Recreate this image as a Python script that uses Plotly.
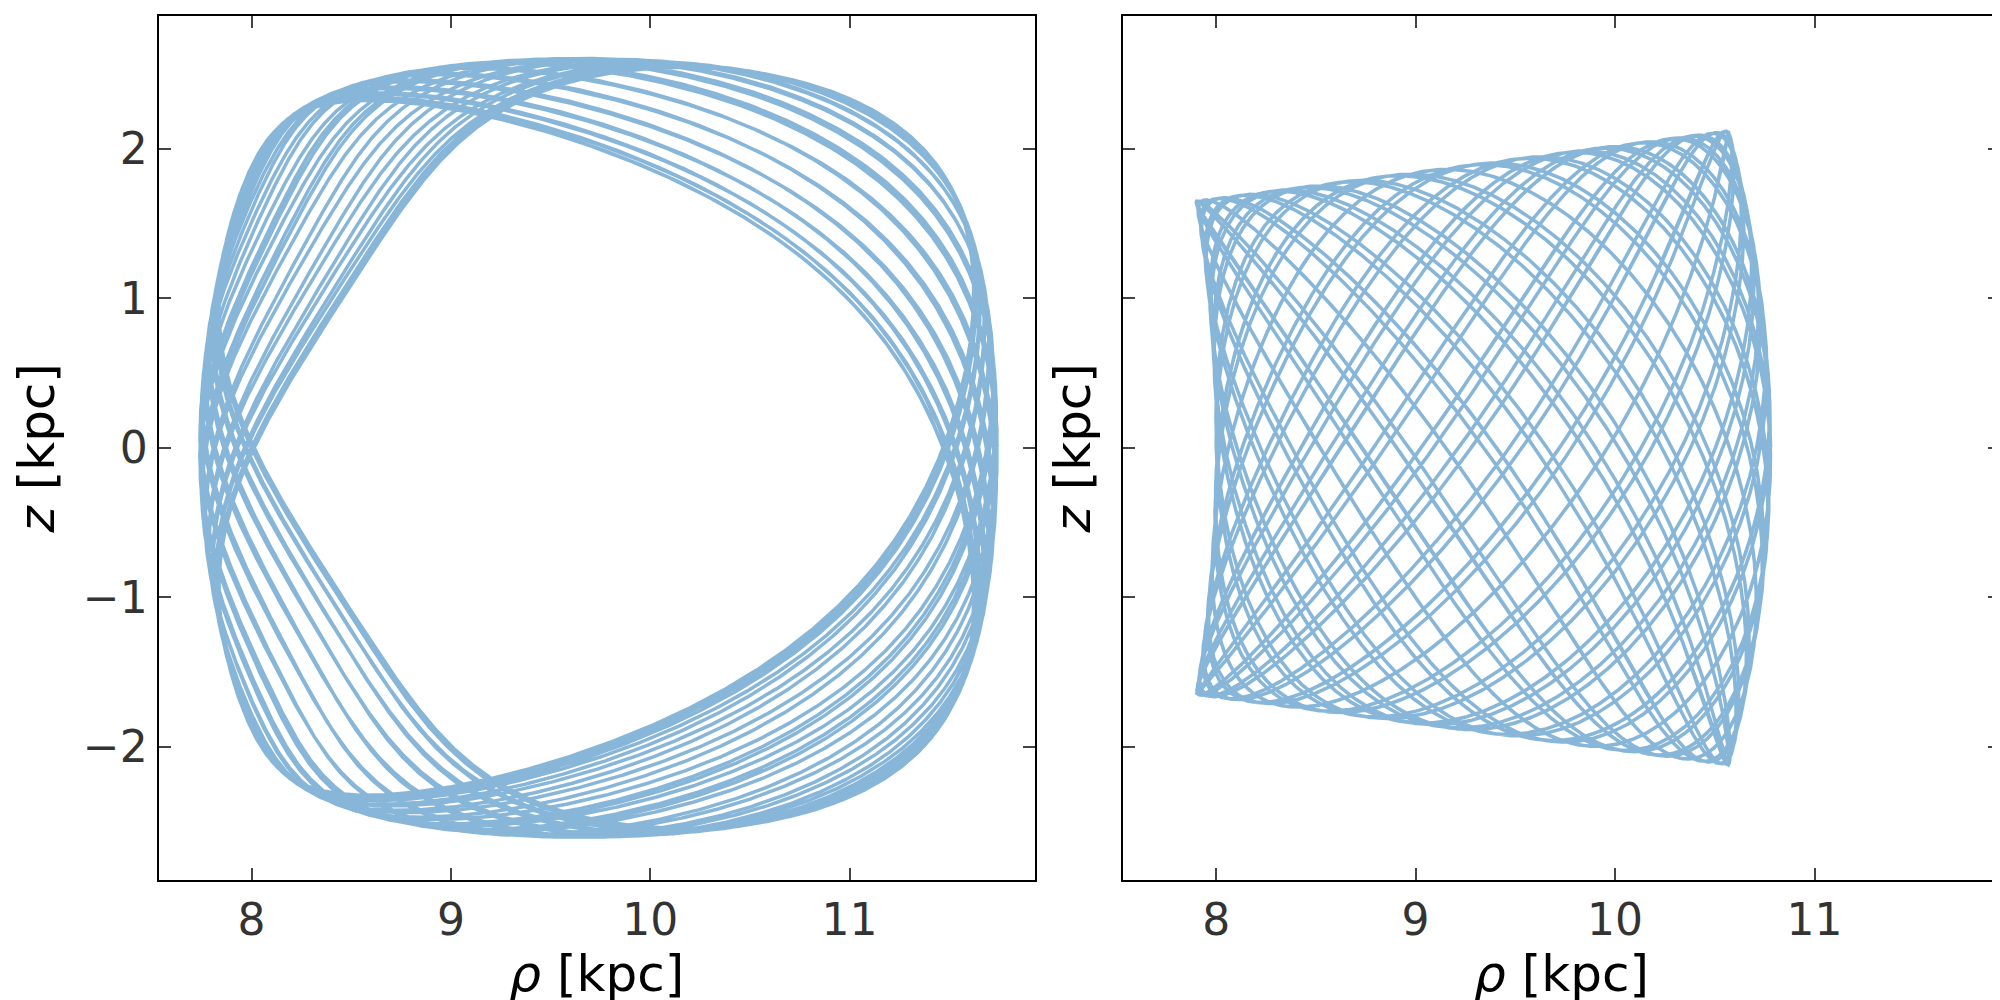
import numpy as np
import plotly.graph_objects as go
from plotly.subplots import make_subplots

# orbit parameters (kpc)
loop_center = [9.74, 0.0]       # rho, z
loop_amp = [2.0, 2.56]          # rho, z amplitude of the untilted ellipse
loop_phase_max = 0.42           # max tilt phase of the loop ellipses
loop_shrink = 0.054             # amplitude loss of the most tilted ellipses
loop_shear = 0.72               # leftward shift of the top/bottom cusps
loop_tilt = 0.12                # z amplitude growth with rho
box_rho_range = [7.90, 10.78]
box_rho_bend = [0.05, 0.105]    # inner / outer edge curvature
box_z_amp = [1.65, 2.12]        # z extent at inner / outer rho edge
freqs_box = [1.0, 1.37]

x_ticks = [8, 9, 10, 11]
y_ticks = [-2, -1, 0, 1, 2]

# loop (tube) orbit: slowly precessing tilted ellipse
t1 = np.linspace(0, 64 * np.pi, 40000)
w = np.sin(0.0331 * t1)
phi = loop_phase_max * w
scale = 1 - loop_shrink * w ** 2
X = np.cos(t1) * scale
Z = np.sin(t1 + phi) * scale
loop_rho = loop_center[0] + loop_amp[0] * X - loop_shear * Z ** 2 * (1 - X ** 2)
loop_z = loop_amp[1] * Z * (1 + loop_tilt * X)

# box orbit
t2 = np.linspace(0, 72 * np.pi, 50000)
u = np.cos(freqs_box[0] * t2)
s = np.sin(freqs_box[1] * t2)
c = (box_rho_range[0] + box_rho_range[1]) / 2
a = (box_rho_range[1] - box_rho_range[0]) / 2
box_rho = (c + a * u - box_rho_bend[1] * (1 + u) * s ** 2
           + box_rho_bend[0] * (1 - u) * (1 - s ** 2))
box_z = s * ((box_z_amp[0] + box_z_amp[1]) / 2 + (box_z_amp[1] - box_z_amp[0]) / 2 * u)

color = 'rgb(135,182,217)'
fig = make_subplots(rows=1, cols=2, horizontal_spacing=0.0)
fig.add_trace(go.Scatter(x=loop_rho, y=loop_z, mode='lines',
                         line=dict(color=color, width=3.5)), row=1, col=1)
fig.add_trace(go.Scatter(x=box_rho, y=box_z, mode='lines',
                         line=dict(color=color, width=3.5)), row=1, col=2)

axis_style = dict(range=[7.533, 11.93], tickvals=x_ticks, ticks='inside', ticklen=12,
                  tickwidth=1.5, mirror='allticks', showline=True, linecolor='black',
                  linewidth=2, showgrid=False, zeroline=False,
                  tickfont=dict(size=44, color='#333333'),
                  title=dict(text='<i>ρ</i> [kpc]', font=dict(size=50, color='black'), standoff=0))
yaxis_style = dict(range=[-2.891, 2.892], tickvals=y_ticks, ticks='inside', ticklen=12,
                   tickwidth=1.5, mirror='allticks', showline=True, linecolor='black',
                   linewidth=2, showgrid=False, zeroline=False,
                   tickfont=dict(size=44, color='#333333'),
                   title=dict(text='<i>z</i> [kpc]', font=dict(size=50, color='black'), standoff=14))

fig.update_xaxes(**axis_style)
fig.update_yaxes(**yaxis_style)
fig.update_yaxes(ticktext=['−2', '−1', '0', '1', '2'], row=1, col=1)
fig.update_yaxes(showticklabels=False, row=1, col=2)

fig.update_layout(width=2000, height=1000, showlegend=False,
                  plot_bgcolor='white', paper_bgcolor='white',
                  font=dict(family='DejaVu Sans'),
                  margin=dict(l=0, r=0, t=0, b=0))
fig.update_xaxes(domain=[150.5 / 2000, 1027 / 2000], row=1, col=1)
fig.update_xaxes(domain=[1115 / 2000, 1992 / 2000], row=1, col=2)
fig.update_yaxes(domain=[1 - 872 / 1000, 1 - 7.6 / 1000])

fig.write_html("out.html")
